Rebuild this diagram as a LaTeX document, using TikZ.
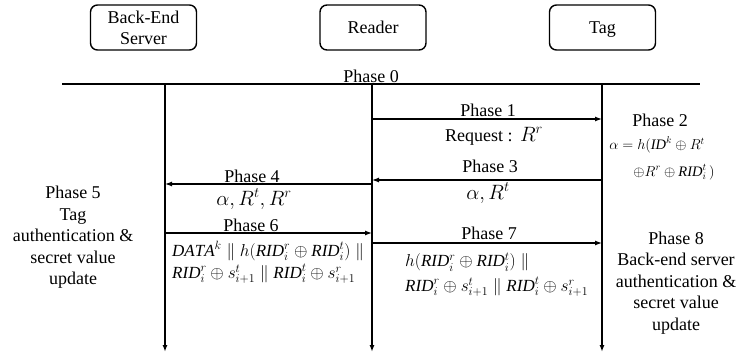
\documentclass[tikz,border=0pt]{standalone}
\usepackage{amsmath,amssymb}
\usepackage{fontspec}
\setmainfont{Liberation Serif}
\usetikzlibrary{arrows.meta,positioning,calc}

\begin{document}
\begin{tikzpicture}[x=1pt,y=-1pt,
  party/.style={draw, line width=1.4pt, rounded corners=7pt, minimum width=106pt,
    minimum height=45pt, align=center, font=\fontsize{18}{21}\selectfont},
  msg/.style={-{Latex[length=7pt,width=5pt]}, line width=1.2pt},
  life/.style={-{Latex[length=7pt,width=5pt]}, line width=1.4pt},
  lbl/.style={font=\fontsize{18}{21.5}\selectfont, align=center, inner sep=0pt},
  big/.style={font=\fontsize{20}{24}\selectfont, inner sep=0pt},
  frm/.style={font=\fontsize{17}{20}\selectfont, inner sep=0pt, anchor=west},
  small/.style={font=\fontsize{14.5}{17}\selectfont, inner sep=0pt}]
\useasboundingbox (0,0) rectangle (739,359);
% Parties
\node[party] (server) at (143.5,27.5) {Back-End\\Server};
\node[party] (reader) at (373,27.5) {Reader};
\node[party, text depth=0pt] (tag) at (602.5,27.5) {Tag};
% Phase 0 bar
\coordinate (bar w) at (62,84);
\coordinate (bar e) at (700,84);
\draw[line width=1.4pt] (bar w) -- (bar e);
\node[lbl] (p0) at (371,76) {Phase 0};
% Lifelines
\foreach \n/\x in {s/165,r/372,t/602} {
  \coordinate (\n-top) at (\x,84);
  \coordinate (\n-end) at (\x,352);
  \draw[life] (\n-top) -- (\n-end);
}
% Phase 1: reader -> tag
\draw[msg] (r-top |- 0,119) -- (t-top |- 0,119);
\node[lbl] (p1) at (488,110) {Phase 1};
\node[lbl] (req) at (494,136) {Request :\ \,{\fontsize{20}{24}\selectfont$R^r$}};
% Phase 2 at the tag
\node[lbl] (p2) at (660,120) {Phase 2};
\node[small] (f2a) at (657,145) {$\alpha = h(\mathit{ID}^k \oplus R^t$};
\node[small] (f2b) at (674,172) {$\oplus R^r \oplus \mathit{RID}_i^t\,)$};
% Phase 3: tag -> reader
\draw[msg] (t-top |- 0,180) -- (r-top |- 0,180);
\node[lbl] (p3) at (490,166) {Phase 3};
\node[big] (m3) at (488,193) {$\alpha, R^t$};
% Phase 4: reader -> server
\draw[msg] (r-top |- 0,184) -- (s-top |- 0,184);
\node[lbl] (p4) at (252,176) {Phase 4};
\node[big] (m4) at (254,199) {$\alpha, R^t, R^r$};
% Phase 5 at the server
\node[lbl] (p5) at (73,237.5) {Phase 5\\Tag\\authentication \&\\secret value\\update};
% Phase 6: server -> reader
\draw[msg] (s-top |- 0,233) -- (r-top |- 0,233);
\node[lbl] (p6) at (251,225) {Phase 6};
\node[frm] (m6a) at (172,251) {$\mathit{DATA}^k \parallel h(\mathit{RID}_i^r \oplus \mathit{RID}_i^t)\parallel$};
\node[frm] (m6b) at (172,274) {$\mathit{RID}_i^r \oplus s_{i+1}^t \parallel \mathit{RID}_i^t \oplus s_{i+1}^r$};
% Phase 7: reader -> tag
\draw[msg] (r-top |- 0,243) -- (t-top |- 0,243);
\node[lbl] (p7) at (489,233) {Phase 7};
\node[frm] (m7a) at (405,262) {$h(\mathit{RID}_i^r \oplus \mathit{RID}_i^t)\parallel$};
\node[frm] (m7b) at (405,287) {$\mathit{RID}_i^r \oplus s_{i+1}^t \parallel \mathit{RID}_i^t \oplus s_{i+1}^r$};
% Phase 8 at the tag
\node[lbl] (p8) at (676,283) {Phase 8\\Back-end server\\authentication \&\\secret value\\update};
\end{tikzpicture}
\end{document}
